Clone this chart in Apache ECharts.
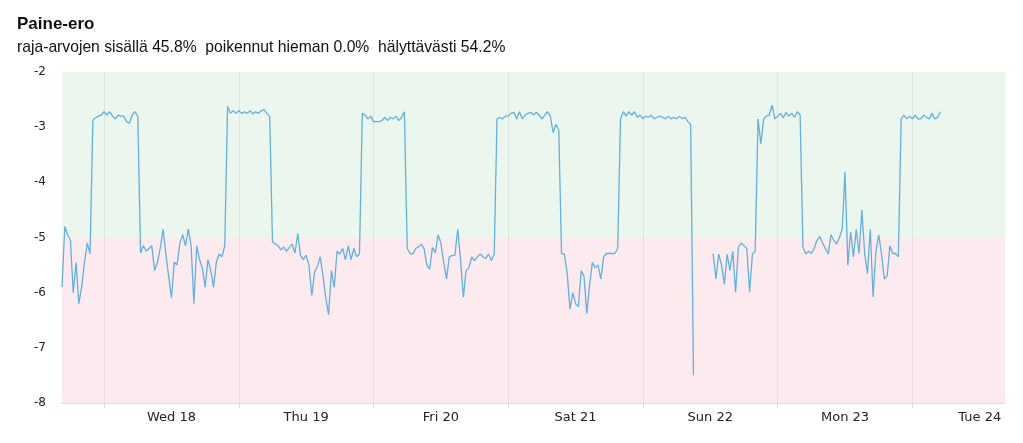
<!DOCTYPE html>
<html>
<head>
<meta charset="utf-8">
<title>Paine-ero</title>
<script src="https://cdn.jsdelivr.net/npm/echarts@6/dist/echarts.min.js"></script>
<style>
html, body { margin: 0; padding: 0; background: #fff; }
#chart { width: 1023px; height: 443px; }
</style>
</head>
<body>
<div id="chart"></div>
<script>
// paine-ero mittaukset, 30 min välein alkaen ti 17.1. klo 16.30
var startTime = '2017-01-17T16:30:00';
var endTime = '2017-01-24T16:30:00';
var stepMinutes = 30;

// päivät (viivat keskiyöllä, tekstit keskipäivällä)
var dayStarts = ['2017-01-18', '2017-01-19', '2017-01-20', '2017-01-21', '2017-01-22', '2017-01-23', '2017-01-24'];
var dayLabels = ['Wed 18', 'Thu 19', 'Fri 20', 'Sat 21', 'Sun 22', 'Mon 23', 'Tue 24'];

// raja-arvot
var okLimits = [-5, -2];
var alarmLimits = [-8, -5];

var tueEvening = [-5.9, -4.8, -4.95, -5.05, -6.0, -5.45, -6.2, -5.9, -5.45, -5.1, -5.3];
var wedHigh = [-2.87, -2.83, -2.8, -2.78, -2.72, -2.78, -2.72, -2.8, -2.85, -2.78, -2.8, -2.8, -2.9, -2.93, -2.78, -2.72, -2.8];
var wedLow = [-5.28, -5.15, -5.25, -5.2, -5.15, -5.6, -5.45, -5.2, -4.85, -5.3, -5.7, -6.1, -5.45, -5.5, -5.1, -4.95,
  -5.15, -4.85, -5.15, -6.2, -5.15, -5.4, -5.55, -5.9, -5.4, -5.6, -5.9, -5.45, -5.3, -5.35, -5.15];
var thuHigh = [-2.62, -2.75, -2.7, -2.75, -2.7, -2.75, -2.72, -2.75, -2.7, -2.76, -2.72, -2.75, -2.7, -2.68, -2.75, -2.8];
var thuLow = [-5.08, -5.12, -5.15, -5.23, -5.17, -5.25, -5.18, -5.12, -5.28, -4.93, -5.33, -5.4, -5.32, -5.5, -6.05, -5.63,
  -5.52, -5.35, -5.7, -6.1, -6.4, -5.6, -5.9, -5.25, -5.3, -5.2, -5.4, -5.15, -5.4, -5.2, -5.35, -5.3];
var friHigh = [-2.75, -2.78, -2.85, -2.8, -2.9, -2.9, -2.9, -2.88, -2.82, -2.88, -2.82, -2.85, -2.8, -2.88, -2.82, -2.72];
var friLow = [-5.2, -5.29, -5.3, -5.2, -5.17, -5.12, -5.2, -5.5, -5.58, -5.18, -5.28, -4.95, -5.1, -5.45, -5.75, -5.35,
  -5.33, -5.32, -4.85, -5.4, -6.08, -5.6, -5.55, -5.35, -5.42, -5.35, -5.3, -5.35, -5.38, -5.3, -5.42, -5.3];
var satHigh = [-2.85, -2.82, -2.85, -2.8, -2.8, -2.75, -2.73, -2.85, -2.72, -2.85, -2.78, -2.75, -2.73, -2.78, -2.73,
  -2.78, -2.85, -2.78, -2.72, -2.8, -3.1, -2.95, -3.05];
var satLow = [-5.29, -5.3, -5.65, -6.3, -6.0, -6.2, -6.25, -5.6, -5.7, -6.38, -5.85, -5.45, -5.55, -5.5, -5.75, -5.35,
  -5.29, -5.29, -5.29, -5.29, -5.2];
var sunHigh = [-2.85, -2.72, -2.8, -2.72, -2.78, -2.72, -2.82, -2.78, -2.85, -2.8, -2.82, -2.78, -2.85, -2.82, -2.8,
  -2.82, -2.85, -2.8, -2.85, -2.82, -2.85, -2.8, -2.85, -2.82, -2.9, -2.95, -7.5];
var sunGap = [null, null, null, null, null, null];
var sunLow = [-5.29, -5.75, -5.3, -5.5, -5.85, -5.3, -5.6, -5.25, -5.99, -5.18, -5.1, -5.15, -5.2, -5.99, -5.3, -5.25];
var monHigh = [-2.85, -3.3, -2.85, -2.8, -2.78, -2.6, -2.85, -2.8, -2.75, -2.83, -2.73, -2.8, -2.75, -2.82, -2.72, -2.78];
var monLow = [-5.17, -5.3, -5.25, -5.29, -5.2, -5.05, -4.98, -5.1, -5.2, -5.3, -4.95, -5.05, -5.12, -5.0, -4.85, -3.81,
  -5.5, -4.9, -5.35, -4.85, -5.29, -4.5, -5.3, -5.65, -4.85, -6.08, -5.25, -4.95, -5.3, -5.75, -5.7, -5.15, -5.29,
  -5.29, -5.35];
var tueHigh = [-2.85, -2.78, -2.85, -2.8, -2.85, -2.78, -2.85, -2.85, -2.78, -2.82, -2.85, -2.75, -2.85, -2.82, -2.72];

var values = [].concat(tueEvening, wedHigh, wedLow, thuHigh, thuLow, friHigh, friLow, satHigh, satLow,
  sunHigh, sunGap, sunLow, monHigh, monLow, tueHigh);

var t0 = new Date(startTime).getTime();
var t1 = new Date(endTime).getTime();
var seriesData = [];
for (var i = 0; i < values.length; i++) {
  seriesData.push([t0 + i * stepMinutes * 60000, values[i]]);
}

var midnights = dayStarts.map(function (d) { return new Date(d + 'T00:00:00').getTime(); });
var noons = midnights.map(function (m) { return m + 12 * 3600000; });

var myChart = echarts.init(document.getElementById('chart'));
var option = {
  animation: false,
  title: {
    text: 'Paine-ero',
    subtext: 'raja-arvojen sisällä 45.8%  poikennut hieman 0.0%  hälyttävästi 54.2%',
    left: 12,
    top: 11,
    itemGap: 7,
    textStyle: { fontFamily: 'Liberation Sans', fontSize: 17, fontWeight: 'bold', color: '#111' },
    subtextStyle: { fontFamily: 'Liberation Sans', fontSize: 15.7, color: '#111' }
  },
  grid: { left: 62, right: 18, top: 72, bottom: 40 },
  xAxis: [{
    // päivien rajaviivat
    type: 'time',
    min: t0,
    max: t1,
    minInterval: 24 * 3600000,
    maxInterval: 24 * 3600000,
    axisLine: { show: true, lineStyle: { color: '#dcdcdc', width: 1 } },
    axisTick: { show: false },
    splitLine: { show: true, showMinLine: false, showMaxLine: false, lineStyle: { color: '#d4d4d4', width: 1 } },
    axisLabel: { show: false }
  }, {
    // päivien nimet keskipäivällä, väkäset keskiyöllä
    type: 'value',
    min: t0,
    max: t1,
    position: 'bottom',
    axisLine: { show: false },
    axisTick: { show: true, length: 5, customValues: midnights, lineStyle: { color: '#d8d8d8' } },
    splitLine: { show: false },
    axisLabel: {
      customValues: noons,
      margin: 8,
      color: '#222',
      fontFamily: 'DejaVu Sans',
      fontSize: 13,
      formatter: function (val) {
        var idx = noons.indexOf(val);
        return idx >= 0 ? dayLabels[idx] : '';
      }
    }
  }],
  yAxis: {
    type: 'value',
    min: -8,
    max: -2,
    interval: 1,
    axisLine: { show: false },
    axisTick: { show: false },
    splitLine: { show: false },
    axisLabel: { margin: 16, color: '#222', fontFamily: 'DejaVu Sans', fontSize: 12 }
  },
  series: [{
    name: 'Paine-ero',
    type: 'line',
    xAxisIndex: 0,
    data: seriesData,
    showSymbol: false,
    connectNulls: false,
    lineStyle: { color: '#64afdb', width: 1.3 },
    itemStyle: { color: '#64afdb' },
    markArea: {
      silent: true,
      data: [
        [{ yAxis: okLimits[0], itemStyle: { color: 'rgba(222,240,226,0.6)' } }, { yAxis: okLimits[1] }],
        [{ yAxis: alarmLimits[0], itemStyle: { color: 'rgba(250,222,226,0.6)' } }, { yAxis: alarmLimits[1] }]
      ]
    }
  }]
};
myChart.setOption(option);
</script>
</body>
</html>
